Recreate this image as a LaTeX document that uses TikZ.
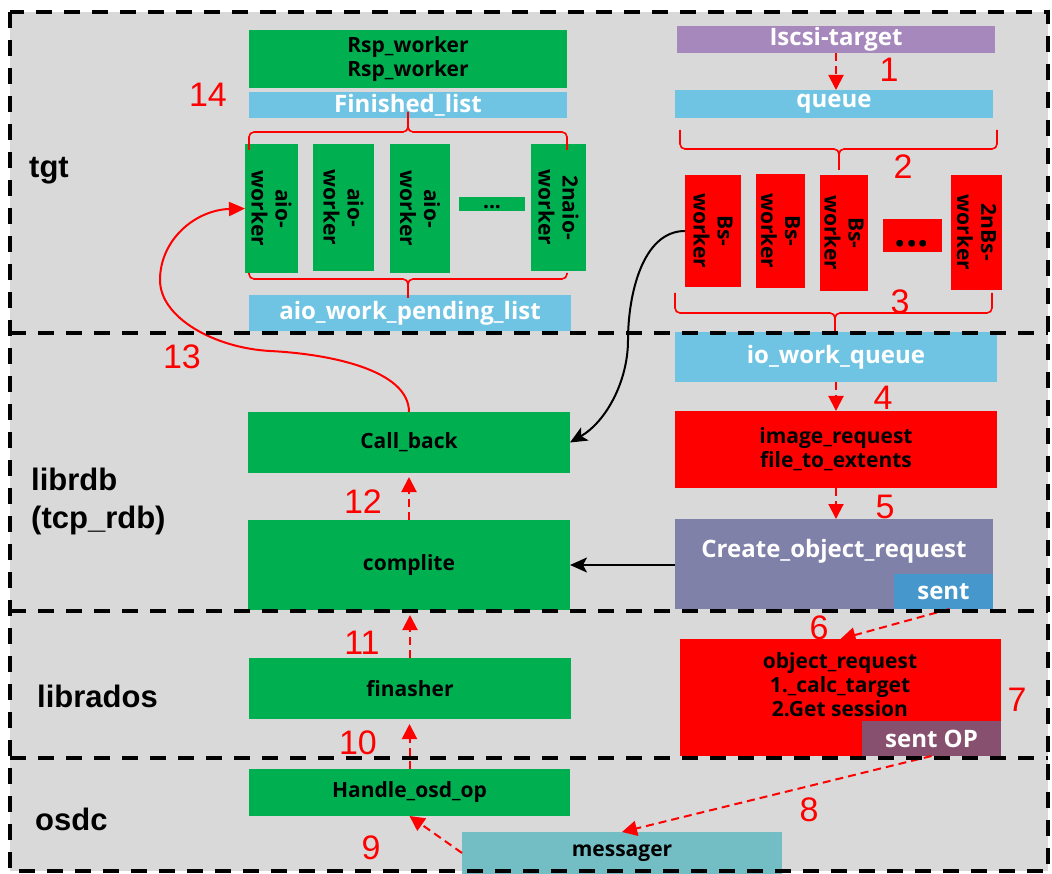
\documentclass[tikz,border=0pt]{standalone}
\usepackage{fontspec}
\setmainfont{Open Sans}
\newfontfamily\arialf{Liberation Sans}
\usetikzlibrary{arrows.meta,calc}
\definecolor{bg}{HTML}{D9D9D9}
\definecolor{cgreen}{HTML}{00B050}
\definecolor{cblue}{HTML}{6FC4E4}
\definecolor{cred}{HTML}{FF0000}
\definecolor{cpurple}{HTML}{A688BC}
\definecolor{cslate}{HTML}{8081A8}
\definecolor{csent}{HTML}{4698CC}
\definecolor{cplum}{HTML}{88506F}
\definecolor{cteal}{HTML}{73BEC5}
\begin{document}
\begin{tikzpicture}[x=1pt,y=-1pt,
  box/.style={rectangle,inner sep=0pt,outer sep=0pt,draw=none,align=center,
    font=\fontsize{21}{24}\selectfont\bfseries},
  wbox/.style={box,text=white,font=\fontsize{24}{28}\selectfont\bfseries},
  vtxt/.style={rotate=-90,align=center,inner sep=0pt,
    font=\fontsize{21}{24}\selectfont\bfseries},
  num/.style={text=cred,inner sep=0pt,font=\arialf\fontsize{34}{34}\selectfont},
  layer/.style={inner sep=0pt,align=left,anchor=base west,
    font=\arialf\bfseries\fontsize{31}{38}\selectfont},
  brace/.style={draw=cred,line width=1.6pt,rounded corners=5pt},
  flow/.style={draw=cred,line width=2pt,dash pattern=on 8pt off 5pt,
    -{Triangle[width=15pt,length=15pt]}},
  call/.style={draw=black,line width=2pt,-{Stealth[width=15pt,length=17pt,inset=4pt]}},
  sep/.style={draw=black,line width=4pt,dash pattern=on 16pt off 12pt},
]
\useasboundingbox (0,0) rectangle (1052,874);
\fill[bg] (10,12) rectangle (1048,871);

% ---------- tgt: response side ----------
\node[box,fill=cgreen,minimum width=318pt,minimum height=58pt] (rsp) at (408,59) {Rsp\_worker\\Rsp\_worker};
\node[wbox,fill=cblue,minimum width=318pt,minimum height=26pt] (fin) at (408,105) {Finished\_list};

\node[box,fill=cgreen,minimum width=53pt,minimum height=129pt] (aio1) at (271.5,208.5) {};
\node[box,fill=cgreen,minimum width=61pt,minimum height=127pt] (aio2) at (343.5,207.5) {};
\node[box,fill=cgreen,minimum width=60pt,minimum height=129pt] (aio3) at (420,208.5) {};
\node[box,fill=cgreen,minimum width=66pt,minimum height=14pt] (aiodots) at (492,204) {};
\node[box,fill=cgreen,minimum width=55pt,minimum height=127pt] (aio4) at (558.5,207.5) {};
\node[vtxt] (aio1t) at (aio1) {aio-\\worker};
\node[vtxt] (aio2t) at (aio2) {aio-\\worker};
\node[vtxt] (aio3t) at (aio3) {aio-\\worker};
\node[vtxt] (aio4t) at (aio4) {2naio-\\worker};
\node[inner sep=0pt,font=\fontsize{21}{24}\selectfont\bfseries] (aiodotst) at (492,207) {...};

\node[wbox,fill=cblue,minimum width=322pt,minimum height=36pt] (pend) at (410,313) {aio\_work\_pending\_list};

\draw[brace] (249,150) |- (408,132) -- (408,112);
\draw[brace] (567,150) |- (408,132) -- (408,112);
\draw[brace] (249,273) |- (408,279) -- (408,298);
\draw[brace] (567,273) |- (408,279) -- (408,298);

% ---------- tgt: request side ----------
\node[wbox,fill=cpurple,minimum width=318pt,minimum height=27pt] (iscsi) at (836,39.5) {Iscsi-target};
\node[wbox,fill=cblue,minimum width=318pt,minimum height=28pt] (queue) at (834,104) {queue};

\node[box,fill=cred,minimum width=56pt,minimum height=112pt] (bs1) at (713,231) {};
\node[box,fill=cred,minimum width=49pt,minimum height=114pt] (bs2) at (780.5,231) {};
\node[box,fill=cred,minimum width=48pt,minimum height=116pt] (bs3) at (844,233) {};
\node[box,fill=cred,minimum width=59pt,minimum height=33pt] (bsdots) at (912.5,235.5) {};
\node[box,fill=cred,minimum width=51pt,minimum height=115pt] (bs4) at (976.5,232.5) {};
\node[vtxt] (bs1t) at (bs1) {Bs-\\worker};
\node[vtxt] (bs2t) at (bs2) {Bs-\\worker};
\node[vtxt] (bs3t) at (bs3) {Bs-\\worker};
\node[vtxt] (bs4t) at (bs4) {2nBs-\\worker};
\node[inner sep=0pt,font=\fontsize{40}{40}\selectfont\bfseries] (bsdotst) at (912,244) {...};

\draw[brace] (680,130) |- (839,149) -- (839,170);
\draw[brace] (997,130) |- (839,149) -- (839,170);
\draw[brace] (675,293) |- (835,313) -- (835,331);
\draw[brace] (992,293) |- (835,313) -- (835,331);

% ---------- librdb ----------
\node[wbox,fill=cblue,minimum width=322pt,minimum height=50pt] (iowq) at (836,357) {io\_work\_queue};
\node[box,fill=cred,minimum width=322pt,minimum height=77pt] (imgreq) at (836,449.5) {image\_request\\file\_to\_extents};
\node[box,fill=cslate,minimum width=318pt,minimum height=90pt] (create) at (834,564) {};
\node[wbox,inner sep=0pt] (createt) at (834,551) {Create\_object\_request};
\node[wbox,fill=csent,minimum width=99pt,minimum height=35pt] (sent) at (943.5,591.5) {sent};

\node[box,fill=cgreen,minimum width=322pt,minimum height=61pt] (callback) at (409,442.5) {Call\_back};
\node[box,fill=cgreen,minimum width=322pt,minimum height=90pt] (complite) at (409,565) {complite};

% ---------- librados ----------
\node[box,fill=cgreen,minimum width=322pt,minimum height=61pt] (finasher) at (410,688.5) {finasher};
\node[box,fill=cred,minimum width=321pt,minimum height=117pt] (objreq) at (840.5,697.5) {};
\node[box,inner sep=0pt] (objreqt) at (840,685) {object\_request\\1.\_calc\_target\\2.Get session};
\node[wbox,fill=cplum,minimum width=139pt,minimum height=35pt] (sentop) at (931.5,738.5) {sent OP};

% ---------- osdc ----------
\node[box,fill=cgreen,minimum width=321pt,minimum height=47pt] (handle) at (409.5,792.5) {Handle\_osd\_op};
\node[box,fill=cteal,minimum width=320pt,minimum height=42pt] (messager) at (622,853) {messager};

% ---------- flow arrows ----------
\draw[flow] (iscsi.south) -- (iscsi.south |- queue.north);
\draw[flow] (iowq.south) -- (imgreq.north);
\draw[flow] (imgreq.south) -- (imgreq.south |- create.north);
\draw[flow] ($(sent.south)+(6,0)$) -- (objreq.north);
\draw[flow] (sentop.south) -- (messager.north);
\draw[flow] (messager.west) -- (handle.south);
\draw[flow,shorten >=5pt] (handle.north) -- (handle.north |- finasher.south);
\draw[flow,shorten >=5pt] (finasher.north) -- (finasher.north |- complite.south);
\draw[flow,shorten >=4pt] (complite.north) -- (callback.south);

\draw[call] (create.west |- complite.east) -- (complite.east);
\coordinate (swing) at (628,340);
\draw[call] (bs1.west) to[out=180,in=90,looseness=0.9] (swing)
  to[out=-90,in=30,looseness=0.9] (callback.east);

\draw[draw=cred,line width=2pt,-{Triangle[width=14pt,length=16pt]}]
  (callback.north) .. controls (409,370) and (330,354) .. (270,351)
  .. controls (215,348) and (160,318) .. (160,280)
  .. controls (160,240) and (195,210) .. (aio1.west);

% ---------- layer separators ----------
\draw[sep] (10,12) rectangle (1048,871);
\draw[sep] (10,333) -- (1048,333);
\draw[sep] (10,611) -- (1048,611);
\draw[sep] (10,758) -- (1048,758);

% ---------- layer names ----------
\node[layer] (ltgt) at (29,178) {tgt};
\node[layer] (llibrdb) at (31,528) {librdb\\(tcp\_rdb)};
\node[layer] (llibrados) at (37,707) {librados};
\node[layer] (losdc) at (35,830) {osdc};

% ---------- step numbers ----------
\node[num] (n1) at (889,70) {1};
\node[num] (n2) at (903,167) {2};
\node[num] (n3) at (900,302) {3};
\node[num] (n4) at (883,398) {4};
\node[num] (n5) at (885,507) {5};
\node[num] (n6) at (819,628) {6};
\node[num] (n7) at (1017,700) {7};
\node[num] (n8) at (809,810) {8};
\node[num] (n9) at (371,848) {9};
\node[num] (n10) at (358,743) {10};
\node[num] (n11) at (362,643) {11};
\node[num] (n12) at (363,502) {12};
\node[num] (n13) at (182,357) {13};
\node[num] (n14) at (208,95) {14};
\end{tikzpicture}
\end{document}
